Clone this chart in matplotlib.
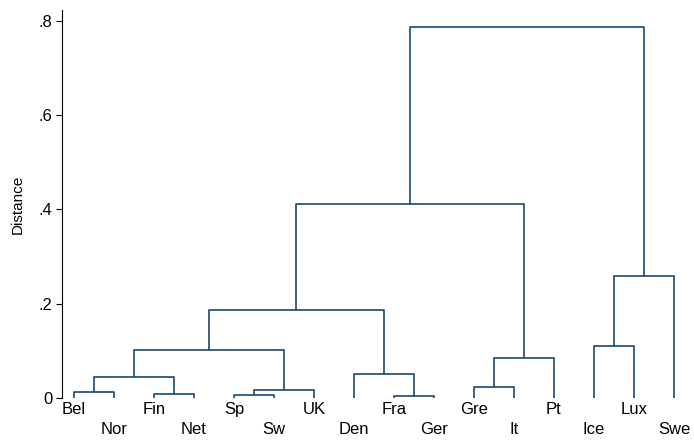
import matplotlib
matplotlib.use('Agg')
import matplotlib.pyplot as plt

plt.rcParams['font.family'] = ['Liberation Sans', 'DejaVu Sans']

# leaves in dendrogram order
leaves = ['Bel', 'Nor', 'Fin', 'Net', 'Sp', 'Sw', 'UK', 'Den',
          'Fra', 'Ger', 'Gre', 'It', 'Pt', 'Ice', 'Lux', 'Swe']
# merges: (cluster a, cluster b, height); new clusters numbered from 16
merge_a = [0, 2, 16, 4, 19, 18, 8, 7, 21, 10, 25, 24, 13, 28, 27]
merge_b = [1, 3, 17, 5, 6, 20, 9, 22, 23, 11, 12, 26, 14, 15, 29]
merge_h = [0.013, 0.008, 0.045, 0.006, 0.018, 0.101, 0.004, 0.051,
           0.187, 0.023, 0.084, 0.412, 0.110, 0.259, 0.788]

yticks = [0, 0.2, 0.4, 0.6, 0.8]
ytick_labels = ['0', '.2', '.4', '.6', '.8']

color = '#1a476f'

fig = plt.figure(figsize=(6.94, 4.41), dpi=100)
ax = fig.add_axes([62 / 694, 43 / 441, 632 / 694, 388 / 441])

xpos = {i: i + 1 for i in range(len(leaves))}
hpos = {i: 0.0 for i in range(len(leaves))}
for k, (a, b, h) in enumerate(zip(merge_a, merge_b, merge_h)):
    ax.plot([xpos[a], xpos[a], xpos[b], xpos[b]], [hpos[a], h, h, hpos[b]],
            color=color, lw=1.2, solid_capstyle='butt')
    new = len(leaves) + k
    xpos[new] = (xpos[a] + xpos[b]) / 2
    hpos[new] = h

for i, name in enumerate(leaves):
    off = -4 if i % 2 == 0 else -24
    ax.annotate(name, xy=(i + 1, 0), xytext=(0, off), textcoords='offset pixels',
                ha='center', va='top', fontsize=12)

ax.set_xlim(0.7, 16.5)
ax.set_ylim(0, 0.823)
ax.set_yticks(yticks)
ax.set_yticklabels(ytick_labels)
ax.set_xticks([])
ax.set_ylabel('Distance', fontsize=11, labelpad=10)
for s in ['top', 'right', 'bottom']:
    ax.spines[s].set_visible(False)
ax.spines['left'].set_linewidth(0.8)
ax.tick_params(axis='y', length=4, width=0.8, labelsize=12, pad=3)

fig.savefig('out.png', dpi=100)
